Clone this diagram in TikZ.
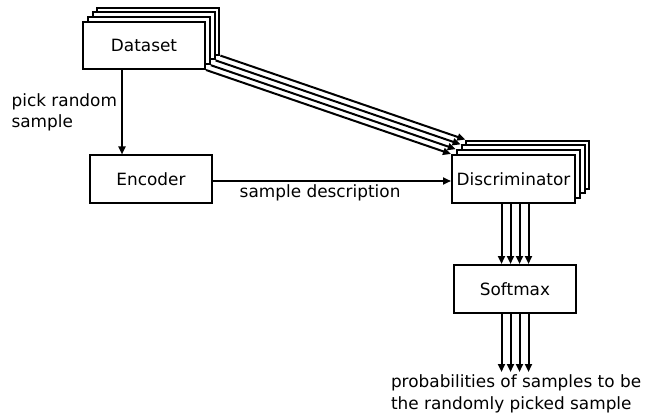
\documentclass[tikz,border=0pt]{standalone}
\usepackage{fontspec}
\setmainfont{DejaVu Sans}
\usetikzlibrary{arrows.meta}
\begin{document}
\begin{tikzpicture}[x=1pt,y=-1pt,>={Triangle[length=8pt,width=7pt]},line width=2pt,
	every node/.style={font=\fontsize{16.9}{21.5}\selectfont},
	block/.style={draw,fill=white,minimum width=122pt,minimum height=47pt,inner sep=0pt}]
	\useasboundingbox (0,0) rectangle (647,414);
	
	% stacked copies, back to front
	\foreach \i in {3,2,1}{
		\node[block] (ds\i) at ({144+4.8*\i},{45.5-4.8*\i}) {};
		\node[block,minimum width=123pt,minimum height=48pt] (dis\i) at ({513.5+4.8*\i},{179-4.8*\i}) {};
	}
	
	% Nodes
	\node[block] (ds0) at (144,45.5) {Dataset};
	\node[block,minimum width=123pt,minimum height=48pt] (dis0) at (513.5,179) {Discriminator};
	\node[block] (enc) at (151,179) {Encoder};
	\node[block,minimum height=48pt] (sm) at (515,289) {Softmax};
	\coordinate (out) at (515,372);
	\node[anchor=north west,align=left,inner sep=0pt] (prob) at (390,374) {probabilities of samples to be\\the randomly picked sample};
	
	% Edges
	\foreach \i in {0,1,2,3}
		\draw[->] (ds\i.south east) -- (dis\i.north west);
	\draw[->] ([xshift=-22pt]ds0.south) -- ([xshift=-22pt]ds0.south |- enc.north)
		node[midway,left,align=left,inner sep=4pt] {pick random\\sample};
	\draw[->] ([yshift=-2pt]enc.east) -- ([yshift=-2pt]dis0.west)
		node[pos=0.45,below,inner sep=3pt] {sample description};
	\foreach \dx in {-13.5,-4.5,4.5,13.5}{
		\draw[->] ([xshift=\dx pt]sm.north |- dis0.south) -- ([xshift=\dx pt]sm.north);
		\draw[->] ([xshift=\dx pt]sm.south) -- ([xshift=\dx pt]sm.south |- out);
	}
	
\end{tikzpicture}
\end{document}
